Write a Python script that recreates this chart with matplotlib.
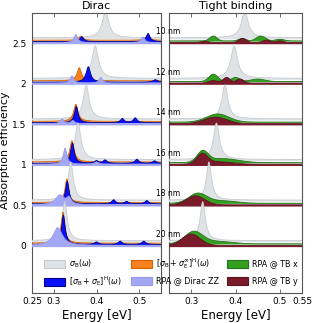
import numpy as np
import matplotlib
matplotlib.use("Agg")
import matplotlib.pyplot as plt
from matplotlib.patches import Patch
import matplotlib.transforms as mtransforms

plt.rcParams['font.family'] = ['DejaVu Sans']
plt.rcParams['mathtext.fontset'] = 'dejavusans'

# ---------------- data ----------------
sizes = ["10 nm", "12 nm", "14 nm", "16 nm", "18 nm", "20 nm"]
offsets = [2.5, 2.0, 1.5, 1.0, 0.5, 0.0]

# peaks: (position eV, height, half-width eV)
sigmaB_peaks = [
    [(0.421, 0.33, 0.009)],
    [(0.397, 0.40, 0.009)],
    [(0.376, 0.42, 0.008)],
    [(0.357, 0.45, 0.008)],
    [(0.340, 0.47, 0.007)],
    [(0.326, 0.48, 0.007)],
]
orange_peaks = [
    [(0.363, 0.05, 0.005), (0.518, 0.06, 0.005)],
    [(0.360, 0.16, 0.006)],
    [(0.352, 0.21, 0.006)],
    [(0.343, 0.26, 0.006)],
    [(0.331, 0.29, 0.005)],
    [(0.322, 0.38, 0.005)],
]
blue_peaks = [
    [(0.366, 0.06, 0.005), (0.520, 0.10, 0.005)],
    [(0.381, 0.19, 0.006), (0.537, 0.03, 0.006)],
    [(0.353, 0.20, 0.005), (0.460, 0.05, 0.005), (0.490, 0.06, 0.005)],
    [(0.344, 0.25, 0.005), (0.400, 0.03, 0.005), (0.420, 0.04, 0.005),
     (0.494, 0.05, 0.005), (0.535, 0.03, 0.005)],
    [(0.332, 0.28, 0.005), (0.440, 0.05, 0.005), (0.470, 0.03, 0.005),
     (0.517, 0.04, 0.005)],
    [(0.323, 0.36, 0.005), (0.400, 0.03, 0.005), (0.455, 0.04, 0.005),
     (0.510, 0.04, 0.005)],
]
lav_peaks = [
    [(0.352, 0.10, 0.005), (0.508, 0.07, 0.005)],
    [(0.343, 0.09, 0.005), (0.410, 0.07, 0.005)],
    [(0.320, 0.06, 0.005), (0.345, 0.04, 0.005)],
    [(0.327, 0.20, 0.005), (0.400, 0.03, 0.006)],
    [(0.315, 0.12, 0.012), (0.336, 0.08, 0.006)],
    [(0.310, 0.22, 0.013)],
]
green_peaks = [
    [(0.350, 0.06, 0.008), (0.415, 0.03, 0.008), (0.457, 0.06, 0.010), (0.500, 0.02, 0.010)],
    [(0.350, 0.09, 0.010), (0.400, 0.05, 0.010), (0.450, 0.03, 0.015)],
    [(0.360, 0.10, 0.025)],
    [(0.326, 0.13, 0.012), (0.370, 0.05, 0.035)],
    [(0.315, 0.12, 0.020), (0.370, 0.03, 0.030)],
    [(0.306, 0.15, 0.020), (0.360, 0.03, 0.030)],
]
maroon_peaks = [
    [(0.330, 0.015, 0.008), (0.416, 0.05, 0.008), (0.470, 0.03, 0.008), (0.500, 0.02, 0.008)],
    [(0.350, 0.03, 0.010), (0.380, 0.07, 0.008), (0.410, 0.05, 0.008)],
    [(0.355, 0.08, 0.025)],
    [(0.325, 0.12, 0.012), (0.360, 0.03, 0.030)],
    [(0.310, 0.11, 0.020)],
    [(0.300, 0.14, 0.020)],
]

legend_labels = [r"$\sigma_\mathrm{B}(\omega)$",
                 r"$[\sigma_\mathrm{B}+\sigma_\mathrm{E}]^\mathrm{H}(\omega)$",
                 r"$[\sigma_\mathrm{B}+\sigma_\mathrm{E}^{\infty}]^\mathrm{H}(\omega)$",
                 "RPA @ Dirac ZZ", "RPA @ TB x", "RPA @ TB y"]

# ---------------- styles ----------------
c_gray, e_gray = "#dfe3e5", "#c6cbce"
c_or, e_or = "#f7821f", "#d66200"
c_bl, e_bl = "#0a10f5", "#00008a"
c_lav, e_lav = "#a3a8f4", "#959be9"
c_gr, e_gr = "#35a020", "#22701a"
c_ma, e_ma = "#7a1b2b", "#5a1320"

E = np.linspace(0.25, 0.55, 1200)


def lor(peaks):
    y = np.zeros_like(E)
    for p, h, w in peaks:
        y += h * w**2 / ((E - p)**2 + w**2)
    return y


def gau(peaks):
    y = np.zeros_like(E)
    for p, h, w in peaks:
        y += h * np.exp(-0.5 * ((E - p) / w)**2)
    return y


W, H = 312, 323
fig = plt.figure(figsize=(W/100, H/100), dpi=100)
axL = fig.add_axes([32/W, 1-293/H, 129/W, 280/H])
axR = fig.add_axes([169/W, 1-293/H, 133/W, 280/H])

ylim = (-0.58, 2.87)


def band(ax, base, y, fc, ec, z):
    ax.fill_between(E, base, base + y, facecolor=fc, edgecolor='none', zorder=z)
    ax.plot(E, base + y, color=ec, lw=0.6, zorder=z + 0.1)


for i, off in enumerate(offsets):
    zb = 1 + i
    # left (Dirac)
    band(axL, off + 0.045, 0.02 + lor(sigmaB_peaks[i]), c_gray, e_gray, zb)
    band(axL, off + 0.030, 0.005 + lor(orange_peaks[i]), c_or, e_or, zb + 0.2)
    band(axL, off + 0.012, 0.006 + lor(blue_peaks[i]), c_bl, e_bl, zb + 0.4)
    band(axL, off - 0.015, 0.020 + lor(lav_peaks[i]), c_lav, e_lav, zb + 0.6)
    # right (tight binding)
    band(axR, off + 0.045, 0.02 + lor(sigmaB_peaks[i]), c_gray, e_gray, zb)
    band(axR, off + 0.018, 0.008 + gau(green_peaks[i]), c_gr, e_gr, zb + 0.3)
    band(axR, off - 0.015, 0.022 + gau(maroon_peaks[i]), c_ma, e_ma, zb + 0.6)

for ax in (axL, axR):
    ax.set_xlim(0.25, 0.55)
    ax.set_ylim(*ylim)
    for s in ax.spines.values():
        s.set_color("#555555")
        s.set_linewidth(0.8)
    ax.tick_params(direction='in', length=3, width=0.6, colors="#555555",
                   labelcolor='black', labelsize=6.5, top=True, pad=3)
    ax.set_xlabel("Energy [eV]", fontsize=8.5, labelpad=2)

axL.set_xticks([0.25, 0.3, 0.4, 0.5])
axL.set_xticklabels(["0.25", "0.3", "0.4", "0.5"])
axR.set_xticks([0.3, 0.4, 0.5, 0.55])
axR.set_xticklabels(["0.3", "0.4", "0.5", "0.55"])
axL.set_yticks([0, 0.5, 1, 1.5, 2, 2.5])
axL.set_yticklabels(["0", "0.5", "1", "1.5", "2", "2.5"])
axL.tick_params(axis='y', length=0, pad=4)
axR.set_yticks([])
axL.set_ylabel("Absorption efficiency", fontsize=8)
axL.yaxis.set_label_coords((10 - 32) / 129, 0.51)
axL.set_title("Dirac", fontsize=8, pad=3)
axR.set_title("Tight binding", fontsize=8, pad=3)

tr = mtransforms.blended_transform_factory(axR.transAxes, axR.transData)
for lab, off in zip(sizes, offsets):
    axR.text(-0.01, off + 0.14, lab, transform=tr, ha='center', va='center',
             fontsize=5.5, clip_on=False, zorder=20)

handles = [Patch(facecolor=c_gray, edgecolor=e_gray, lw=0.8),
           Patch(facecolor=c_bl, edgecolor=e_bl, lw=0.8),
           Patch(facecolor=c_or, edgecolor=e_or, lw=0.8),
           Patch(facecolor=c_lav, edgecolor=e_lav, lw=0.8),
           Patch(facecolor=c_gr, edgecolor=e_gr, lw=0.8),
           Patch(facecolor=c_ma, edgecolor=e_ma, lw=0.8)]
col_x = [44, 131, 227]
row_y = [264, 281]
for k in range(6):
    c, r = k // 2, k % 2
    fig.legend([handles[k]], [legend_labels[k]],
               loc='center left', bbox_to_anchor=(col_x[c]/W, 1 - row_y[r]/H),
               frameon=False, fontsize=5.8, borderpad=0, borderaxespad=0,
               handlelength=2.6, handleheight=1.1, handletextpad=0.5)

fig.savefig("out.png", dpi=100)
